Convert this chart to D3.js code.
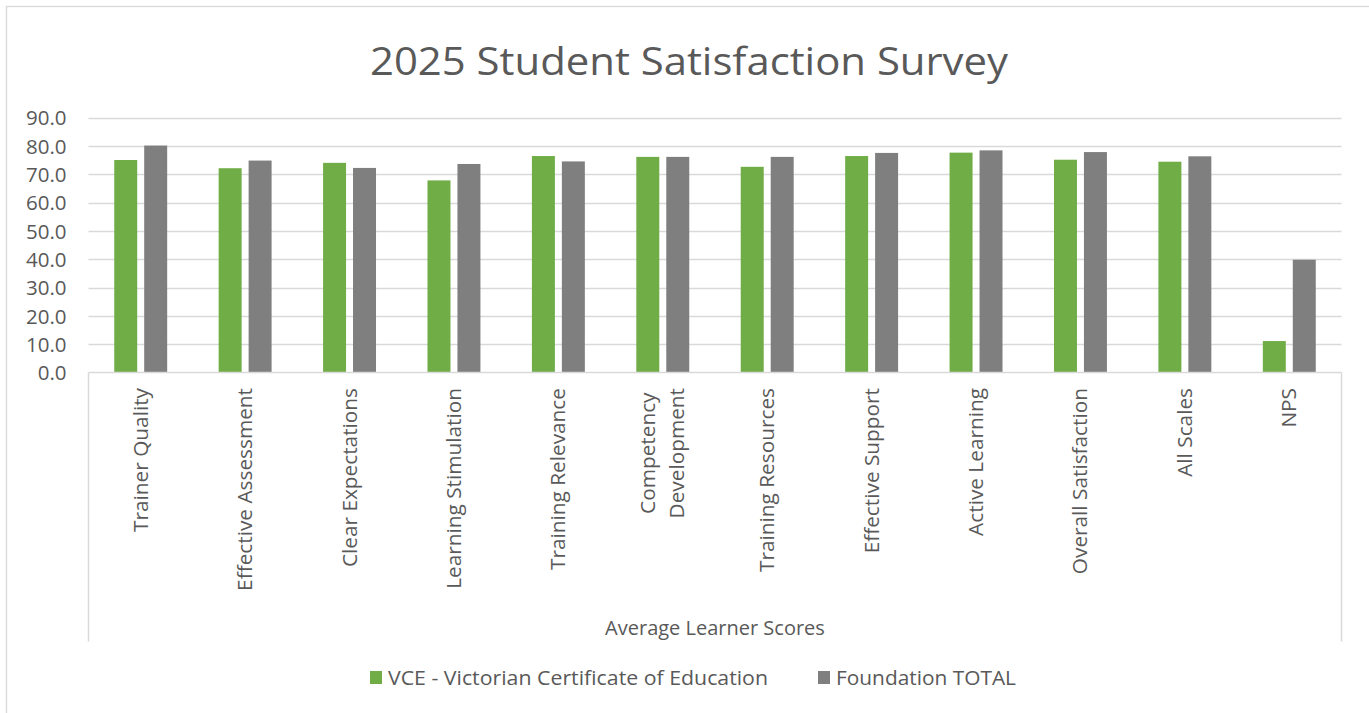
<!DOCTYPE html>
<html>
<head>
<meta charset="utf-8">
<script src="https://cdn.jsdelivr.net/npm/d3@7"></script>
<style>
  html, body { margin: 0; padding: 0; background: #fff; }
  svg { display: block; font-family: "Open Sans", "Noto Sans", sans-serif; }
</style>
</head>
<body>
<svg id="chart" width="1369" height="713"></svg>
<script>
const categories = [
  "Trainer Quality", "Effective Assessment", "Clear Expectations", "Learning Stimulation",
  "Training Relevance", "Competency Development", "Training Resources", "Effective Support",
  "Active Learning", "Overall Satisfaction", "All Scales", "NPS"
];
const seriesNames = ["VCE - Victorian Certificate of Education", "Foundation TOTAL"];
const vceValues = [75.0, 72.1, 74.0, 67.8, 76.4, 76.1, 72.6, 76.4, 77.6, 75.1, 74.4, 11.1];
const foundationValues = [80.1, 74.8, 72.2, 73.6, 74.5, 76.1, 76.1, 77.5, 78.4, 77.8, 76.3, 39.8];
const yTicks = [0, 10, 20, 30, 40, 50, 60, 70, 80, 90];
const chartTitle = "2025 Student Satisfaction Survey";
const axisTitle = "Average Learner Scores";
const colors = ["#70ad47", "#7f7f7f"];

(function () {
const svg = d3.select("#chart");
const textColor = "#595959";
const gridColor = "#d9d9d9";

// chart frame
svg.append("rect").attr("x", 6.5).attr("y", 6.5).attr("width", 1400).attr("height", 740)
  .attr("fill", "#fff").attr("stroke", gridColor).attr("stroke-width", 1.3);

const pLeft = 88.5, pRight = 1341.5, pTop = 117.5, pBottom = 372.5;

const x = d3.scaleBand().domain(categories).range([pLeft, pRight])
  .paddingInner(0.493).paddingOuter(0.2465);
const xs = d3.scaleBand().domain([0, 1]).range([0, x.bandwidth()]).paddingInner(0.233);
const y = d3.scaleLinear().domain([0, 90]).range([pBottom, pTop]);

// gridlines
svg.append("g").selectAll("line").data(yTicks.filter(d => d > 0)).join("line")
  .attr("x1", pLeft).attr("x2", pRight)
  .attr("y1", d => Math.round(y(d)) + 0.5).attr("y2", d => Math.round(y(d)) + 0.5)
  .attr("stroke", gridColor).attr("stroke-width", 1.5);

// y tick labels
const yAxis = d3.axisLeft(y).tickValues(yTicks).tickFormat(d3.format(".1f")).tickSize(0).tickPadding(0);
const gy = svg.append("g").attr("transform", `translate(66.5,0)`).call(yAxis);
gy.select(".domain").remove();
gy.selectAll("text").attr("fill", textColor).attr("font-size", 20.5)
  .attr("font-family", "'Open Sans', sans-serif").attr("dy", "0.36em");

// bars
const seriesData = [vceValues, foundationValues];
const groups = svg.append("g").selectAll("g").data(seriesData).join("g")
  .attr("fill", (d, i) => colors[i]);
groups.selectAll("rect").data((vals, si) => vals.map((v, ci) => ({ v, ci, si }))).join("rect")
  .attr("x", d => x(categories[d.ci]) + xs(d.si))
  .attr("width", xs.bandwidth())
  .attr("y", d => y(d.v))
  .attr("height", d => y(0) - y(d.v));

// category axis box
const axisG = svg.append("g").attr("stroke", gridColor).attr("stroke-width", 1.5).attr("fill", "none");
axisG.append("line").attr("x1", pLeft).attr("x2", pRight).attr("y1", pBottom).attr("y2", pBottom);
axisG.append("line").attr("x1", pLeft).attr("x2", pLeft).attr("y1", pBottom).attr("y2", 641.5);
axisG.append("line").attr("x1", pRight).attr("x2", pRight).attr("y1", pBottom).attr("y2", 641.5);

// category labels (rotated)
const labelTop = 388;
const fs = 20.8;
const labG = svg.append("g").attr("fill", textColor).attr("font-size", fs);
categories.forEach(c => {
  const cx = x(c) + x.bandwidth() / 2;
  const lines = c === "Competency Development" ? ["Competency", "Development"] : [c];
  const lineH = 29;
  const g = labG.append("g");
  if (lines.length === 1) {
    g.append("text")
      .attr("transform", `translate(${cx + 7},${labelTop}) rotate(-90)`)
      .attr("text-anchor", "end")
      .text(lines[0]);
  } else {
    const tmp = g.append("text").attr("font-size", fs).text(lines[1]);
    const w = tmp.node().getComputedTextLength();
    tmp.remove();
    const midY = labelTop + w / 2;
    lines.forEach((ln, i) => {
      const off = (i - (lines.length - 1) / 2) * lineH;
      g.append("text")
        .attr("transform", `translate(${cx + 7 + off},${midY}) rotate(-90)`)
        .attr("text-anchor", "middle")
        .text(ln);
    });
  }
});

// axis title
svg.append("text").attr("x", (pLeft + pRight) / 2).attr("y", 635)
  .attr("text-anchor", "middle").attr("fill", textColor).attr("font-size", 20)
  .text(axisTitle);

// chart title
svg.append("text").attr("x", 689).attr("y", 75)
  .attr("text-anchor", "middle").attr("fill", textColor).attr("font-size", 38)
  .attr("textLength", 638).attr("lengthAdjust", "spacingAndGlyphs")
  .text(chartTitle);

// legend
const legend = [
  { name: seriesNames[0], color: colors[0], sx: 370, tx: 388, tw: 380 },
  { name: seriesNames[1], color: colors[1], sx: 818, tx: 836, tw: 180 }
];
const lg = svg.append("g");
legend.forEach(l => {
  lg.append("rect").attr("x", l.sx).attr("y", 671).attr("width", 12).attr("height", 13).attr("fill", l.color);
  lg.append("text").attr("x", l.tx).attr("y", 685).attr("fill", textColor).attr("font-size", 20)
    .attr("textLength", l.tw).attr("lengthAdjust", "spacingAndGlyphs")
    .text(l.name);
});
})();
</script>
</body>
</html>
